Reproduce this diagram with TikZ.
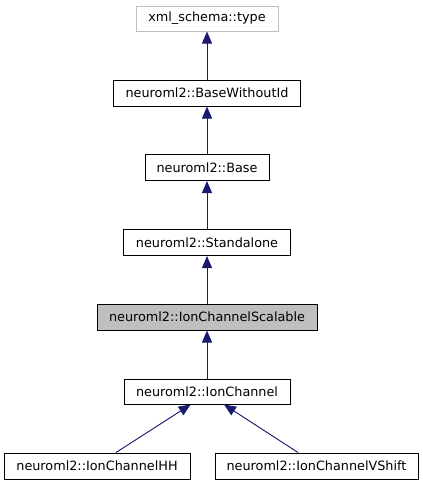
\documentclass[tikz,border=0pt]{standalone}
\usepackage{fontspec}
\setmainfont{DejaVu Sans}
\usetikzlibrary{arrows.meta}
\definecolor{edgeblue}{HTML}{191970}
\definecolor{grayfill}{HTML}{BFBFBF}
\definecolor{grayline}{HTML}{BFBFBF}
\begin{document}
\begin{tikzpicture}[x=1pt,y=1pt,
  cls/.style={draw=black, line width=1pt, fill=white, inner sep=0pt, minimum height=26pt,
    font=\fontsize{12.8pt}{15pt}\selectfont, text=black},
  ext/.style={cls, draw=grayline},
  cur/.style={cls, fill=grayfill},
  inh/.style={draw=edgeblue, line width=0.9pt, -{Triangle[length=12pt,width=10pt]}, fill=edgeblue}]
\useasboundingbox (0,0) rectangle (423,-485);
\node[ext, minimum width=142pt, minimum height=25pt] (type) at (207,-18.5) {xml\_schema::type};
\node[cls, minimum width=187pt] (bwi) at (207,-93) {neuroml2::BaseWithoutId};
\node[cls, minimum width=124pt] (base) at (207,-167.5) {neuroml2::Base};
\node[cls, minimum width=167pt] (stand) at (207,-242.5) {neuroml2::Standalone};
\node[cur, minimum width=220pt] (scal) at (207,-317) {neuroml2::IonChannelScalable};
\node[cls, minimum width=166pt, minimum height=25pt] (ionch) at (207,-391.5) {neuroml2::IonChannel};
\node[cls, minimum width=186pt] (hh) at (97,-466) {neuroml2::IonChannelHH};
\node[cls, minimum width=203pt] (vs) at (316.5,-466) {neuroml2::IonChannelVShift};
\draw[inh] (bwi.north) -- (type.south);
\draw[inh] (base.north) -- (bwi.south);
\draw[inh] (stand.north) -- (base.south);
\draw[inh] (scal.north) -- (stand.south);
\draw[inh] (ionch.north) -- (scal.south);
\draw[inh] ([xshift=19pt]hh.north) -- ([xshift=-16.3pt]ionch.south);
\draw[inh] ([xshift=-18.5pt]vs.north) -- ([xshift=17pt]ionch.south);
\end{tikzpicture}
\end{document}
